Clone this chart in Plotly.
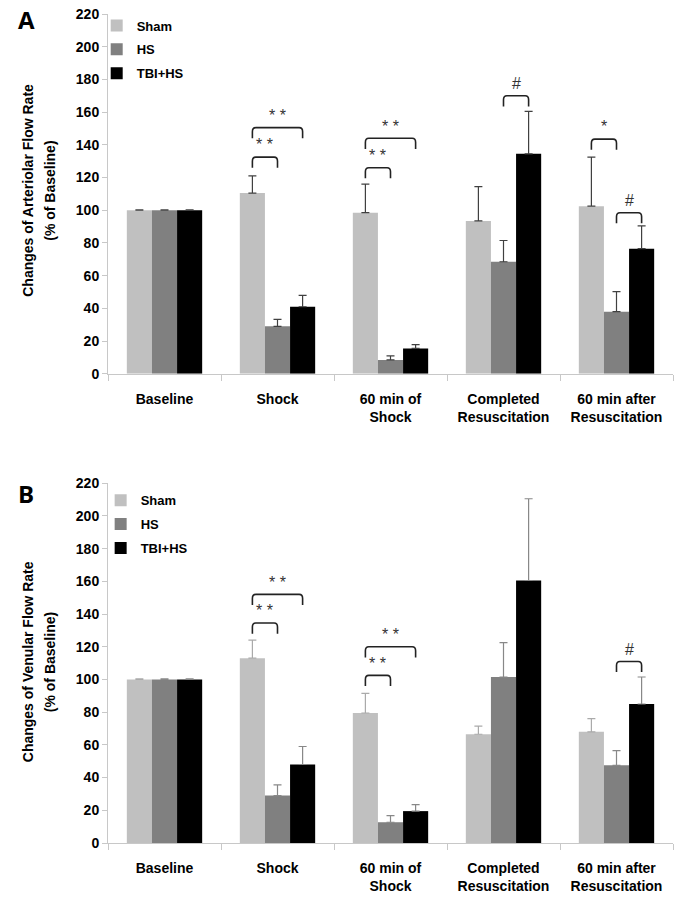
"""Flow rate changes, two stacked bar panels (arteriolar / venular)."""

import plotly.graph_objects as go
from plotly.subplots import make_subplots

phases = ["Baseline", "Shock", "60 min of<br>Shock", "Completed<br>Resuscitation", "60 min after<br>Resuscitation"]
groups = ["Sham", "HS", "TBI+HS"]
colors = ["#c0c0c0", "#808080", "#000000"]

# panel A - arteriolar flow rate (% of baseline)
art_sham = [100, 110.5, 98.5, 93.5, 102.5]
art_hs = [100, 29, 8.5, 68.5, 38]
art_tbi = [100, 41, 15.5, 134.5, 76.5]
art_sham_err = [0.3, 10.5, 17.5, 21, 30]
art_hs_err = [0.3, 4.3, 2.4, 13, 12.3]
art_tbi_err = [0.3, 7, 2.3, 26, 14]

# panel B - venular flow rate (% of baseline)
ven_sham = [100, 113, 79.5, 66.5, 68]
ven_hs = [100, 29, 12.7, 101.5, 47.5]
ven_tbi = [100, 48, 19.5, 160.5, 85]
ven_sham_err = [0.3, 11, 12, 5, 8]
ven_hs_err = [0.3, 6.5, 4, 21, 9]
ven_tbi_err = [0.3, 11, 4, 50, 16.5]

# significance brackets: (phase index, first group, last group, height, label)
art_marks = [
    (1, 0, 1, 132.5, "* *"), (1, 0, 2, 150.5, "* *"),
    (2, 0, 1, 126, "* *"), (2, 0, 2, 144, "* *"),
    (3, 1, 2, 170, "#"),
    (4, 0, 1, 143.5, "*"), (4, 1, 2, 98.5, "#"),
]
ven_marks = [
    (1, 0, 1, 134.5, "* *"), (1, 0, 2, 152, "* *"),
    (2, 0, 1, 102.5, "* *"), (2, 0, 2, 120, "* *"),
    (4, 1, 2, 111, "#"),
]

FONT = "Arial, Liberation Sans, sans-serif"
BARGAP = 1 / 3
BAR_W = (1 - BARGAP) / 3

# plot area in pixels: left 108, width 565, top 13, height 830
L, W, T, H = 108, 565, 13, 830


def px_x(x):
    return (x - L) / W


def px_y(y):
    return (T + H - y) / H


fig = make_subplots(rows=2, cols=1, vertical_spacing=0.132)

panels = [
    (1, [art_sham, art_hs, art_tbi], [art_sham_err, art_hs_err, art_tbi_err], art_marks, "legend", ["#404040"] * 3),
    (2, [ven_sham, ven_hs, ven_tbi], [ven_sham_err, ven_hs_err, ven_tbi_err], ven_marks, "legend2", ["#aaaaaa", "#888888", "#888888"]),
]

for row, series, errs, marks, leg, err_cols in panels:
    for j, name in enumerate(groups):
        fig.add_trace(go.Bar(
            x=list(range(len(phases))), y=series[j], name=f"<b>{name}</b>",
            marker=dict(color=colors[j], line=dict(width=0)),
            error_y=dict(type="data", array=errs[j], symmetric=False, arrayminus=[0] * len(phases),
                         color=err_cols[j], thickness=1.2, width=4),
            legend=leg, legendgroup=f"{leg}{j}",
        ), row=row, col=1)

    xref = "x" if row == 1 else "x2"
    yref = "y" if row == 1 else "y2"
    for i, a, b, h, label in marks:
        x0 = i + (a - 1) * BAR_W
        x1 = i + (b - 1) * BAR_W
        leg_h = 6.5
        r = 0.03
        path = (f"M {x0},{h - leg_h} L {x0},{h - 2.5} Q {x0},{h} {x0 + r},{h} "
                f"L {x1 - r},{h} Q {x1},{h} {x1},{h - 2.5} L {x1},{h - leg_h}")
        fig.add_shape(type="path", path=path, xref=xref, yref=yref,
                      line=dict(color="#222222", width=1.6))
        fig.add_annotation(x=(x0 + x1) / 2, y=h + 1, xref=xref, yref=yref, text=label,
                           showarrow=False, yanchor="bottom",
                           font=dict(family=FONT, size=16, color="#333333"))

for row in (1, 2):
    fig.update_xaxes(
        row=row, col=1, range=[-0.5, 4.5], tickmode="array", tickvals=list(range(5)), ticktext=phases,
        ticks="", showline=True, linecolor="#c8c8c8", linewidth=1, showgrid=False, zeroline=False,
        tickfont=dict(family=FONT, size=14, color="#000000", weight="bold"), ticklabelstandoff=12,
        minor=dict(tickmode="linear", tick0=-0.5, dtick=1, ticks="outside", ticklen=6,
                   tickcolor="#c8c8c8", showgrid=False),
    )
    fig.update_yaxes(
        row=row, col=1, range=[0, 220], dtick=20, ticks="outside", ticklen=5, tickcolor="#c8c8c8",
        showline=True, linecolor="#c8c8c8", linewidth=1, showgrid=False, zeroline=False,
        tickfont=dict(family=FONT, size=14, color="#000000", weight="bold"),
    )

legend_style = dict(font=dict(family=FONT, size=13, color="#000000"), bgcolor="rgba(0,0,0,0)",
                    tracegroupgap=4, itemwidth=30, xanchor="left", yanchor="top")
fig.update_layout(
    width=685, height=903, template="none", barmode="group", bargap=BARGAP, bargroupgap=0,
    margin=dict(l=L, r=685 - L - W, t=T, b=903 - T - H), paper_bgcolor="#ffffff", plot_bgcolor="#ffffff",
    legend=dict(x=-0.02, y=1.003, **legend_style),
    legend2=dict(x=-0.013, y=0.431, **legend_style),
    font=dict(family=FONT),
)

# axis titles as two separate rotated lines (matching the wide line spacing)
title_lines = [
    ("Changes of Arteriolar Flow Rate", 28, 190), ("(% of Baseline)", 50, 190),
    ("Changes of Venular Flow Rate", 28, 662), ("(% of Baseline)", 50, 662),
]
for text, x, y in title_lines:
    fig.add_annotation(text=f"<b>{text}</b>", x=px_x(x), y=px_y(y), xref="paper", yref="paper",
                       textangle=-90, showarrow=False, xanchor="center", yanchor="middle",
                       font=dict(family=FONT, size=14, color="#000000"))

for letter, x, y in [("A", 26, 19), ("B", 26, 493)]:
    fig.add_annotation(text=f"<b>{letter}</b>", x=px_x(x), y=px_y(y), xref="paper", yref="paper",
                       showarrow=False, xanchor="center", yanchor="middle",
                       font=dict(family="Open Sans, Arial", size=24, color="#000000"))

fig.write_html("out.html", config={"displayModeBar": False},
               post_script="document.body.style.margin='0';")
